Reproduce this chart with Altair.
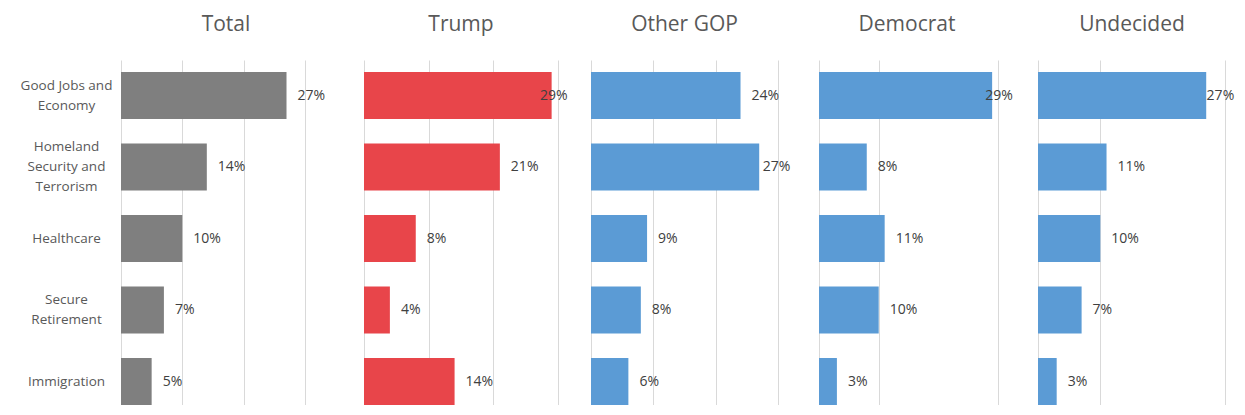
import altair as alt
import pandas as pd

# ---- data ----
topics = ["Good Jobs and|Economy", "Homeland|Security and|Terrorism", "Healthcare",
          "Secure|Retirement", "Immigration"]
total = [27, 14, 10, 7, 5]
trump = [29, 21, 8, 4, 14]
other_gop = [24, 27, 9, 8, 6]
democrat = [29, 8, 11, 10, 3]
undecided = [27, 11, 10, 7, 3]

panel_names = ["Total", "Trump", "Other GOP", "Democrat", "Undecided"]
panel_values = [total, trump, other_gop, democrat, undecided]

# ---- styling / layout ----
colors = ["#7f7f7f", "#e8454a", "#5b9bd5", "#5b9bd5", "#5b9bd5"]
px_per_pct = [6.13, 6.47, 6.23, 5.97, 6.23]
widths = [223, 207, 208, 199, 190]
title_centers = [105, 97, 93.5, 88, 94]
grids = [[0, 10, 20, 30], [0, 10, 20, 30], [0, 10, 20, 30], [0, 10, 30], [0, 10, 30]]
label_caps = [100, 25.5, 25.8, 26.0, 25.3]
FONT = "Open Sans"
PLOT_H = 345

y_scale = alt.Scale(domain=topics, paddingInner=0.343, paddingOuter=0.084, align=1.0)

panels = []
for i, (name, vals) in enumerate(zip(panel_names, panel_values)):
    df = pd.DataFrame({"topic": topics, "v": vals})
    dmax = widths[i] / px_per_pct[i]
    x_scale = alt.Scale(domain=[0, dmax], nice=False, zero=True)
    x_axis = alt.Axis(values=grids[i], labels=False, ticks=False, domain=False,
                      title=None, grid=True, gridColor="#d9d9d9", gridWidth=1)
    if i == 0:
        y_axis = alt.Axis(title=None, ticks=False, domain=False, labelAlign="center",
                          labelPadding=55, labelFont=FONT, labelFontSize=13.5,
                          labelColor="#595959", labelLineHeight=20,
                          labelExpr="split(datum.label, '|')", labelLimit=200,
                          labelOffset={"condition": [
                              {"test": "indexof(datum.value, 'Terrorism') >= 0", "value": -20},
                              {"test": "indexof(datum.value, '|') >= 0", "value": -10}],
                              "value": 0})
    else:
        y_axis = None

    base = alt.Chart(df)
    bars = base.mark_bar(color=colors[i]).encode(
        x=alt.X("v:Q", scale=x_scale, axis=x_axis),
        y=alt.Y("topic:N", sort=topics, scale=y_scale, axis=y_axis),
    )
    texts = base.transform_calculate(
        lx=f"min(datum.v, {label_caps[i]})", lab="datum.v + '%'"
    ).mark_text(align="left", baseline="middle", dx=11, font=FONT, fontSize=14,
                color="#404040").encode(
        x=alt.X("lx:Q", scale=x_scale),
        y=alt.Y("topic:N", sort=topics, scale=y_scale),
        text="lab:N",
    )
    dx = title_centers[i] - widths[i] / 2
    panel = alt.layer(bars, texts).properties(
        width=widths[i], height=PLOT_H,
        title=alt.TitleParams(name, anchor="middle", dx=dx, font=FONT, fontSize=21,
                              fontWeight="normal", color="#595959", offset=25),
    )
    panels.append(panel)

chart = alt.hconcat(*panels, spacing=20, bounds="flush").properties(
    padding={"left": 12, "top": 6, "right": 0, "bottom": 0}
).configure_view(stroke=None)

chart.save("out.html", embed_options={"renderer": "svg", "actions": False})
